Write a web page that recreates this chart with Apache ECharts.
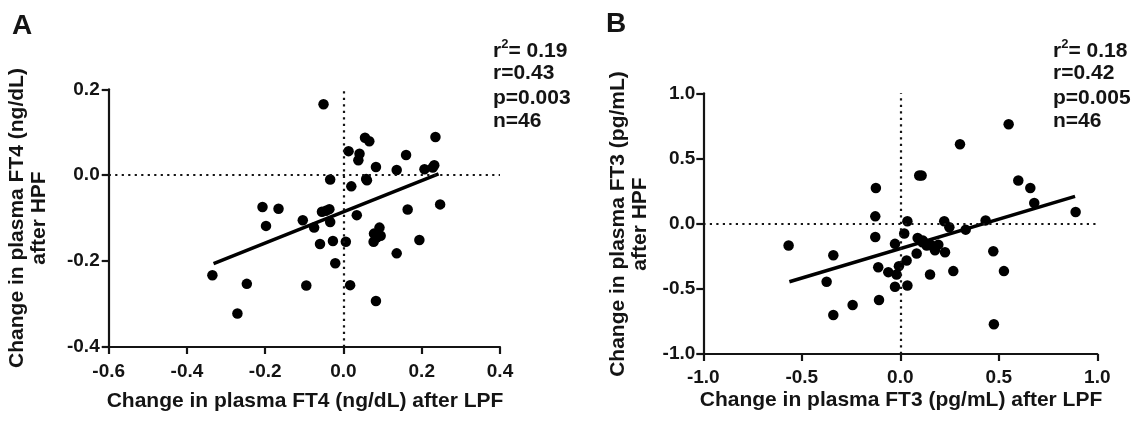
<!DOCTYPE html>
<html><head><meta charset="utf-8">
<script src="https://cdn.jsdelivr.net/npm/echarts@6/dist/echarts.min.js"></script>
<style>html,body{margin:0;padding:0;background:#fff}#c{width:1138px;height:422px}</style>
</head><body><div id="c"></div>
<script>
// Panel A: change in FT4 (ng/dL)
const ft4LPF = [-0.051,0.055,0.066,0.235,0.013,0.041,0.038,0.160,0.083,0.136,0.207,0.232,-0.034,0.058,0.020,-0.207,-0.166,0.247,0.164,-0.055,-0.036,0.034,-0.198,-0.104,-0.075,-0.034,-0.060,-0.027,0.006,0.077,0.078,0.092,0.095,0.194,0.136,-0.021,-0.335,-0.247,-0.095,0.017,-0.271,0.083,-0.045,0.085,0.060,0.228];
const ft4HPF = [0.165,0.087,0.079,0.089,0.056,0.050,0.035,0.047,0.019,0.012,0.014,0.023,-0.010,-0.009,-0.026,-0.074,-0.078,-0.068,-0.080,-0.085,-0.079,-0.093,-0.118,-0.105,-0.122,-0.109,-0.160,-0.153,-0.155,-0.155,-0.136,-0.122,-0.141,-0.151,-0.182,-0.205,-0.233,-0.253,-0.257,-0.256,-0.322,-0.293,-0.083,-0.145,-0.012,0.018];
const ft4FitX = [-0.332, 0.243];
const ft4FitY = [-0.206, 0.003];
const ft4Stats = ['0.19','0.43','0.003','46'];
const ft4XTicks = {min:-0.6, max:0.4, interval:0.2};
const ft4YTicks = {min:-0.4, max:0.2, interval:0.2};
const ft4XTitle = 'Change in plasma FT4 (ng/dL) after LPF';
const ft4YTitle = 'Change in plasma FT4 (ng/dL)\nafter HPF';

// Panel B: change in FT3 (pg/mL)
const ft3LPF = [0.550,0.303,0.096,0.108,-0.124,0.599,0.660,0.680,0.890,-0.127,0.036,0.223,0.433,0.249,0.332,0.020,-0.127,-0.567,0.088,0.112,0.134,0.154,0.193,0.176,0.227,-0.027,0.083,-0.340,0.472,0.032,-0.007,-0.112,-0.061,-0.019,0.151,0.269,0.526,-0.374,-0.027,0.036,-0.242,-0.108,-0.340,0.475,0.115,0.170];
const ft3HPF = [0.762,0.609,0.370,0.370,0.273,0.331,0.273,0.158,0.089,0.056,0.018,0.018,0.025,-0.028,-0.046,-0.076,-0.102,-0.168,-0.110,-0.143,-0.168,-0.161,-0.161,-0.204,-0.219,-0.155,-0.229,-0.242,-0.212,-0.283,-0.326,-0.334,-0.372,-0.390,-0.390,-0.364,-0.364,-0.446,-0.484,-0.474,-0.624,-0.586,-0.701,-0.772,-0.130,-0.180];
const ft3FitX = [-0.563, 0.887];
const ft3FitY = [-0.446, 0.209];
const ft3Stats = ['0.18','0.42','0.005','46'];
const ft3XTicks = {min:-1.0, max:1.0, interval:0.5};
const ft3YTicks = {min:-1.0, max:1.0, interval:0.5};
const ft3XTitle = 'Change in plasma FT3 (pg/mL) after LPF';
const ft3YTitle = 'Change in plasma FT3 (pg/mL)\nafter HPF';

const FONT = '"Liberation Sans", Arial, Helvetica, sans-serif';
const INK = '#141414';

function pairs(xs, ys){ return xs.map((x,i)=>[x, ys[i]]); }

function axBase(idx, t, margin){
  return {
    type:'value', gridIndex:idx, min:t.min, max:t.max, interval:t.interval,
    axisLine:{show:true, onZero:false, lineStyle:{color:INK, width:2.2}},
    axisTick:{show:true, length:7, lineStyle:{color:INK, width:2.2}},
    axisLabel:{fontFamily:FONT, fontWeight:'bold', fontSize:19, color:INK, margin:margin,
      formatter:v=>v.toFixed(1)},
    splitLine:{show:false}
  };
}
function dotted(){
  return {
    silent:true, symbol:'none', animation:false,
    label:{show:false},
    lineStyle:{type:[2.2,4.3], width:2.2, color:INK},
    data:[{xAxis:0},{yAxis:0}]
  };
}
function titleText(text, x, y, rot){
  return {type:'text', x:x, y:y, rotation:rot, silent:true,
    style:{text:text, fontFamily:FONT, fontWeight:'bold', fontSize:21, lineHeight:22,
      fill:INK, align:'center', verticalAlign:'middle'}};
}
function statsText(left, s){
  const base = {fontFamily:FONT, fontWeight:'bold', fontSize:21, fill:INK};
  return [
    {type:'text', left:left, top:38, style:Object.assign({}, base, {
      text:'{a|r}{s|2}{a|= '+s[0]+'}',
      rich:{a:{fontFamily:FONT, fontWeight:'bold', fontSize:21, color:INK, lineHeight:24, verticalAlign:'bottom'},
            s:{fontFamily:FONT, fontWeight:'bold', fontSize:13, color:INK, lineHeight:24, verticalAlign:'top'}}
    })},
    {type:'text', left:left, top:63, style:Object.assign({}, base, {text:'r='+s[1]})},
    {type:'text', left:left, top:88, style:Object.assign({}, base, {text:'p='+s[2]})},
    {type:'text', left:left, top:111, style:Object.assign({}, base, {text:'n='+s[3]})}
  ];
}

const chart = echarts.init(document.getElementById('c'), null, {renderer:'canvas'});
chart.setOption({
  animation:false,
  backgroundColor:'#ffffff',
  grid:[
    {left:108.7, top:89.3, width:391.3, height:257.7},
    {left:703.3, top:93.3, width:394, height:260.7}
  ],
  xAxis:[ axBase(0, ft4XTicks, 15), axBase(1, ft3XTicks, 14) ],
  yAxis:[ axBase(0, ft4YTicks, 9), axBase(1, ft3YTicks, 8) ],
  graphic:[
    {type:'text', left:12, top:12, style:{text:'A', fontFamily:FONT, fontWeight:'bold', fontSize:28, fill:INK}},
    {type:'text', left:606, top:10, style:{text:'B', fontFamily:FONT, fontWeight:'bold', fontSize:28, fill:INK}},
    titleText(ft4XTitle, 305, 401.5, 0),
    titleText(ft3XTitle, 901, 400, 0),
    titleText(ft4YTitle, 28, 218, Math.PI/2),
    titleText(ft3YTitle, 629.5, 224, Math.PI/2)
  ].concat(statsText(493, ft4Stats), statsText(1053, ft3Stats)),
  series:[
    {type:'scatter', xAxisIndex:0, yAxisIndex:0, data:pairs(ft4LPF, ft4HPF), symbolSize:10.5,
      itemStyle:{color:'#000', opacity:1}, markLine:dotted(), z:3},
    {type:'line', xAxisIndex:0, yAxisIndex:0, data:pairs(ft4FitX, ft4FitY), showSymbol:false, symbol:'none',
      lineStyle:{color:'#000', width:3.5}, z:4},
    {type:'scatter', xAxisIndex:1, yAxisIndex:1, data:pairs(ft3LPF, ft3HPF), symbolSize:10.5,
      itemStyle:{color:'#000', opacity:1}, markLine:dotted(), z:3},
    {type:'line', xAxisIndex:1, yAxisIndex:1, data:pairs(ft3FitX, ft3FitY), showSymbol:false, symbol:'none',
      lineStyle:{color:'#000', width:3.5}, z:4}
  ]
});
</script>
</body></html>
